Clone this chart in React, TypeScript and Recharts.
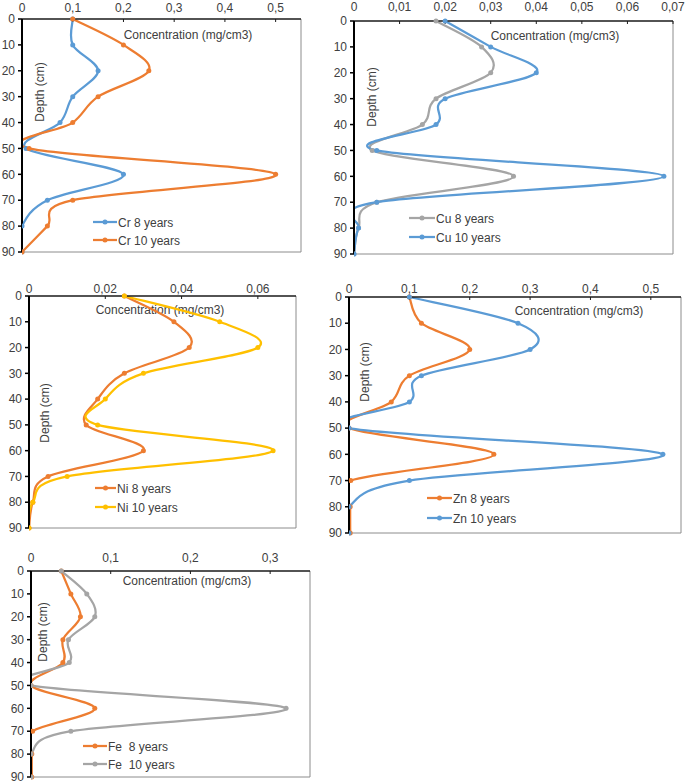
import React from 'react';
import { LineChart, Line, XAxis, YAxis, ReferenceLine } from 'recharts';

const depths = [0, 10, 20, 30, 40, 50, 60, 70, 80, 90];

const crYear8 = [0.1, 0.1, 0.15, 0.1, 0.075, 0.008, 0.2, 0.05, 0, 0];
const crYear10 = [0.1, 0.2, 0.25, 0.15, 0.1, 0.014, 0.5, 0.1, 0.05, 0];
const cuYear8 = [0.018, 0.028, 0.03, 0.018, 0.015, 0.004, 0.035, 0.005, 0.001, 0];
const cuYear10 = [0.02, 0.03, 0.04, 0.02, 0.018, 0.005, 0.068, 0.005, 0.001, 0];
const niYear8 = [0.025, 0.038, 0.042, 0.025, 0.018, 0.015, 0.03, 0.005, 0.001, 0];
const niYear10 = [0.025, 0.05, 0.06, 0.03, 0.02, 0.018, 0.064, 0.01, 0.001, 0];
const znYear8 = [0.1, 0.12, 0.2, 0.1, 0.07, 0, 0.24, 0.003, 0.002, 0.002];
const znYear10 = [0.1, 0.28, 0.3, 0.12, 0.1, 0, 0.52, 0.1, 0, 0];
const feYear8 = [0.038, 0.05, 0.062, 0.04, 0.04, 0, 0.08, 0.002, 0.001, 0.001];
const feYear10 = [0.038, 0.07, 0.08, 0.047, 0.048, 0, 0.32, 0.05, 0, 0];

const crTicks = [0, 0.1, 0.2, 0.3, 0.4, 0.5];
const cuTicks = [0, 0.01, 0.02, 0.03, 0.04, 0.05, 0.06, 0.07];
const niTicks = [0, 0.02, 0.04, 0.06];
const znTicks = [0, 0.1, 0.2, 0.3, 0.4, 0.5];
const feTicks = [0, 0.1, 0.2, 0.3];

const BLUE = '#5B9BD5';
const ORANGE = '#ED7D31';
const GREY = '#A5A5A5';
const GOLD = '#FFC000';
const FONT = '"Liberation Sans", Arial, sans-serif';
const TEXT = '#404040';

const buildRows = (a: number[], b: number[]) =>
  depths.map((d, i) => ({ depth: d, y8: a[i], y10: b[i] }));

const fmt = (v: number) => (v === 0 ? '0' : String(v).replace('.', ','));

// Excel-like smoothed line (Catmull-Rom through the points)
const excelCurve = (context: any) => {
  let pts: number[][] = [];
  return {
    areaStart() {},
    areaEnd() {},
    lineStart() {
      pts = [];
    },
    point(x: number, y: number) {
      pts.push([+x, +y]);
    },
    lineEnd() {
      const n = pts.length;
      if (!n) return;
      context.moveTo(pts[0][0], pts[0][1]);
      for (let i = 0; i < n - 1; i++) {
        const p0 = pts[i === 0 ? 0 : i - 1];
        const p1 = pts[i];
        const p2 = pts[i + 1];
        const p3 = pts[i + 2 < n ? i + 2 : n - 1];
        context.bezierCurveTo(
          p1[0] + (p2[0] - p0[0]) / 6,
          p1[1] + (p2[1] - p0[1]) / 6,
          p2[0] - (p3[0] - p1[0]) / 6,
          p2[1] - (p3[1] - p1[1]) / 6,
          p2[0],
          p2[1]
        );
      }
    },
  };
};

type Box = { L: number; R: number; T: number; B: number };
type PanelProps = {
  box: Box;
  rows: any[];
  names: string[];
  colors: string[];
  domain: [number, number];
  ticks: number[];
  tickGap: number;
  conc: [number, number];
  depth: [number, number];
  legend: { x1: number; x2: number; ys: number[] };
};

const RM = 14;
const BM = 9;

function Panel({ box, rows, names, colors, domain, ticks, tickGap, conc, depth, legend }: PanelProps) {
  const { L, R, T, B } = box;
  const ox = L - 30;
  const oy = T - 20;
  const w = R - L + 30 + RM;
  const h = B - T + 20 + BM;
  const keys = ['y8', 'y10'];
  return (
    <div style={{ position: 'absolute', left: ox, top: oy }}>
      <LineChart layout="vertical" width={w} height={h} data={rows} margin={{ top: 0, right: RM, bottom: BM, left: 0 }}>
        <XAxis
          type="number"
          orientation="top"
          domain={domain}
          ticks={ticks}
          allowDataOverflow
          interval={0}
          height={20}
          tickFormatter={fmt}
          tickSize={-3}
          tickMargin={tickGap}
          tick={{ fontSize: 12, fill: TEXT, fontFamily: FONT }}
          axisLine={{ stroke: '#1a1a1a', strokeWidth: 1.5 }}
          tickLine={{ stroke: '#1a1a1a' }}
        />
        <YAxis
          type="number"
          dataKey="depth"
          domain={[0, 90]}
          ticks={depths}
          interval={0}
          width={30}
          tickSize={4}
          tickMargin={3}
          tick={{ fontSize: 12, fill: TEXT, fontFamily: FONT }}
          axisLine={{ stroke: '#000', strokeWidth: 2 }}
          tickLine={{ stroke: '#000', strokeWidth: 1.5 }}
        />
        <ReferenceLine x={domain[1]} stroke="#8c8c8c" strokeWidth={1} />
        <ReferenceLine y={90} stroke="#8c8c8c" strokeWidth={1} />
        {keys.map((k, i) => (
          <Line
            key={k}
            dataKey={k}
            name={names[i]}
            type={excelCurve as any}
            stroke={colors[i]}
            strokeWidth={2.25}
            dot={{ r: 2.5, fill: colors[i], stroke: colors[i], strokeWidth: 0 }}
            activeDot={false}
            isAnimationActive={false}
          />
        ))}
        <text
          x={conc[0] - ox}
          y={conc[1] - oy + 4}
          textAnchor="middle"
          fontSize={12}
          fontFamily={FONT}
          fill={TEXT}
        >
          Concentration (mg/cm3)
        </text>
        <text
          x={depth[0] - ox}
          y={depth[1] - oy}
          textAnchor="middle"
          dominantBaseline="central"
          fontSize={12}
          fontFamily={FONT}
          fill={TEXT}
          transform={`rotate(-90, ${depth[0] - ox}, ${depth[1] - oy})`}
        >
          Depth (cm)
        </text>
        {names.map((n, i) => {
          const y = legend.ys[i] - oy;
          const x1 = legend.x1 - ox;
          const x2 = legend.x2 - ox;
          return (
            <g key={n}>
              <line x1={x1} x2={x2} y1={y} y2={y} stroke={colors[i]} strokeWidth={2.25} />
              <circle cx={(x1 + x2) / 2} cy={y} r={2.5} fill={colors[i]} />
              <text x={x2 + 1} y={y + 4.5} fontSize={12} fontFamily={FONT} fill={TEXT}>
                {n}
              </text>
            </g>
          );
        })}
      </LineChart>
    </div>
  );
}

export default function App() {
  return (
    <div style={{ position: 'absolute', left: 0, top: 0, width: 685, height: 782, background: '#fff', overflow: 'hidden' }}>
      <Panel
        box={{ L: 22, R: 301, T: 19, B: 252 }}
        rows={buildRows(crYear8, crYear10)}
        names={['Cr 8 years', 'Cr 10 years']}
        colors={[BLUE, ORANGE]}
        domain={[0, 0.55]}
        ticks={crTicks}
        tickGap={10.5}
        conc={[188, 35]}
        depth={[40, 92]}
        legend={{ x1: 93, x2: 117, ys: [222, 240] }}
      />
      <Panel
        box={{ L: 354, R: 673, T: 21, B: 254 }}
        rows={buildRows(cuYear8, cuYear10)}
        names={['Cu 8 years', 'Cu 10 years']}
        colors={[GREY, BLUE]}
        domain={[0, 0.07]}
        ticks={cuTicks}
        tickGap={13.5}
        conc={[555, 36]}
        depth={[372, 97]}
        legend={{ x1: 409, x2: 435, ys: [218, 237] }}
      />
      <Panel
        box={{ L: 29, R: 296, T: 296, B: 528 }}
        rows={buildRows(niYear8, niYear10)}
        names={['Ni 8 years', 'Ni 10 years']}
        colors={[ORANGE, GOLD]}
        domain={[0, 0.07]}
        ticks={niTicks}
        tickGap={6.5}
        conc={[160, 310]}
        depth={[45, 413]}
        legend={{ x1: 95, x2: 116, ys: [488, 507] }}
      />
      <Panel
        box={{ L: 349, R: 681, T: 297, B: 533 }}
        rows={buildRows(znYear8, znYear10)}
        names={['Zn 8 years', 'Zn 10 years']}
        colors={[ORANGE, BLUE]}
        domain={[0, 0.55]}
        ticks={znTicks}
        tickGap={7.5}
        conc={[579, 311]}
        depth={[365, 372]}
        legend={{ x1: 427, x2: 452, ys: [498, 518] }}
      />
      <Panel
        box={{ L: 31, R: 310, T: 571, B: 777 }}
        rows={buildRows(feYear8, feYear10)}
        names={['Fe\u00a0 8 years', 'Fe\u00a0 10 years']}
        colors={[ORANGE, GREY]}
        domain={[0, 0.35]}
        ticks={feTicks}
        tickGap={12.5}
        conc={[187, 581]}
        depth={[43, 632]}
        legend={{ x1: 83, x2: 107, ys: [746, 764] }}
      />
    </div>
  );
}
